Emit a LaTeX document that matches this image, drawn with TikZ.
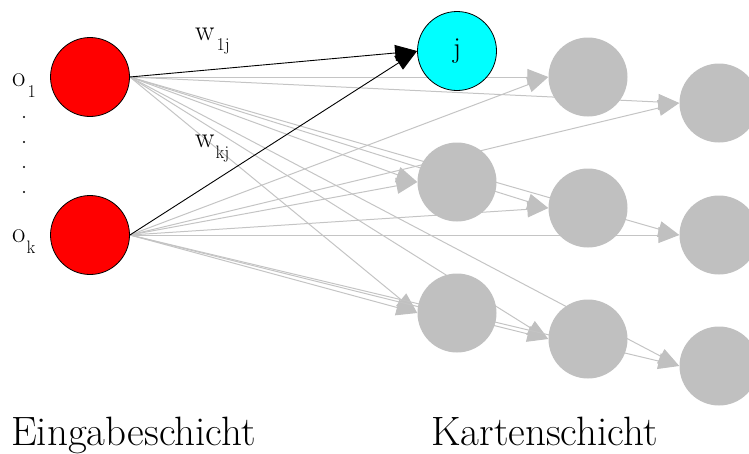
\documentclass[tikz,border=0pt]{standalone}
\usepackage{fontspec}
\usetikzlibrary{arrows.meta}
\pgfdeclarelayer{background}
\pgfsetlayers{background,main}
\definecolor{mapgray}{HTML}{C0C0C0}
\definecolor{linkgray}{HTML}{C4C4C4}
\definecolor{winnercyan}{HTML}{00FFFF}

\begin{document}
\begin{tikzpicture}[x=1pt,y=-1pt,
  neuron/.style={circle, minimum size=79pt, inner sep=0pt},
  inputunit/.style={neuron, draw=black, line width=0.8pt, fill=red},
  winner/.style={neuron, draw=black, line width=0.8pt, fill=winnercyan,
    font=\fontsize{29}{29}\selectfont},
  mapunit/.style={neuron, fill=mapgray},
  link/.style={draw=linkgray, line width=1pt,
    -{Triangle[length=21pt,width=16pt,color=mapgray]}},
  winlink/.style={draw=black, line width=0.9pt,
    -{Triangle[length=22pt,width=16pt]}},
  lbl/.style={anchor=base west, inner sep=0pt, font=\fontsize{29}{29}\selectfont},
  layertitle/.style={anchor=base west, inner sep=0pt, font=\fontsize{41}{41}\selectfont}
]
\useasboundingbox (0,0) rectangle (749,453);
\clip (0,0) rectangle (749,453);

% input layer
\node[inputunit] (o1) at (90,77) {};
\node[inputunit] (ok) at (90,235) {};

% map layer (three staggered columns)
\node[winner]  (j)  at (457,51)  {j};
\node[mapunit] (a2) at (457,182) {};
\node[mapunit] (a3) at (457,313) {};
\node[mapunit] (b1) at (588,77)  {};
\node[mapunit] (b2) at (588,208) {};
\node[mapunit] (b3) at (588,339) {};
\node[mapunit] (c1) at (719,103) {};
\node[mapunit] (c2) at (719,235) {};
\node[mapunit] (c3) at (719,366) {};

% connections
\begin{pgfonlayer}{background}
  \foreach \s in {o1,ok}{
    \foreach \t in {a2,a3,b1,b2,b3,c1,c2,c3}{
      \draw[link] (\s.east) -- (\t.west);
    }
  }
  \draw[winlink] (o1.east) -- (j.west);
  \draw[winlink] (ok.east) -- (j.west);
\end{pgfonlayer}

% labels
\node[lbl] (lo1) at (12,86) {o\hspace{2pt}\raisebox{-11pt}{\fontsize{18}{18}\selectfont 1}};
\node[lbl] (lok) at (12,242) {o\hspace{1pt}\raisebox{-11pt}{\fontsize{18}{18}\selectfont k}};
\node[lbl] (w1) at (195,40) {w\hspace{2pt}\raisebox{-10pt}{\fontsize{18}{18}\selectfont 1j}};
\node[lbl] (wk) at (195,147) {w\hspace{1pt}\raisebox{-11pt}{\fontsize{18}{18}\selectfont kj}};

% vertical ellipsis between the inputs
\foreach \y in {117,142,167,192}{
  \fill (24,\y) circle (1.1pt);
}

\node[layertitle] (inlayer) at (11,445) {Eingabeschicht};
\node[layertitle] (maplayer) at (431,445) {Kartenschicht};
\end{tikzpicture}
\end{document}
